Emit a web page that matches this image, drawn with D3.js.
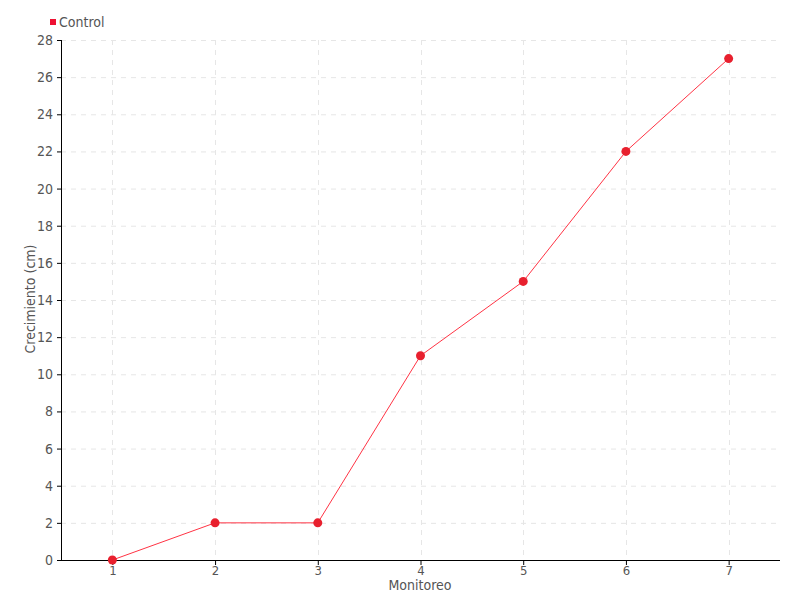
<!DOCTYPE html>
<html><head><meta charset="utf-8">
<script src="https://cdn.jsdelivr.net/npm/d3@7"></script>
<style>body{margin:0;background:#fff}svg{display:block}text{font-family:"DejaVu Sans Condensed","DejaVu Sans",sans-serif}</style>
</head><body>
<svg id="c" width="800" height="600"></svg>
<script>
const categories = [1,2,3,4,5,6,7];
const controlValues = [0,2,2,11,15,22,27];
const yTicks = [0,2,4,6,8,10,12,14,16,18,20,22,24,26,28];
const seriesName = "Control";

const FONT = '"DejaVu Sans Condensed","DejaVu Sans",sans-serif';
const svg = d3.select("#c");
const L=61,R=780,T=40,B=560;
const x = d3.scalePoint().domain(categories).range([L,R]).padding(0.5);
const y = d3.scaleLinear().domain([0,28]).range([B,T]);

// grid
const g = svg.append("g");
g.selectAll(".hg").data(yTicks.slice(1)).join("line")
 .attr("x1",L).attr("x2",R).attr("y1",d=>y(d)+0.5).attr("y2",d=>y(d)+0.5)
 .attr("stroke","#e6e6e6").attr("stroke-dasharray","5,5");
g.selectAll(".vg").data(categories).join("line")
 .attr("x1",d=>Math.round(x(d))+0.5).attr("x2",d=>Math.round(x(d))+0.5).attr("y1",T).attr("y2",B)
 .attr("stroke","#e6e6e6").attr("stroke-dasharray","5,5");

// axes
const ya = svg.append("g").attr("transform",`translate(${L},0)`)
 .call(d3.axisLeft(y).tickValues(yTicks).tickSize(4).tickPadding(4));
const xa = svg.append("g").attr("transform",`translate(0,${B})`)
 .call(d3.axisBottom(x).tickSize(5).tickPadding(1));
[ya,xa].forEach(a=>{
  a.select(".domain").attr("stroke","#000");
  a.selectAll(".tick line").attr("stroke","#000");
  a.selectAll("text").attr("fill","#555").style("font-family",FONT);
});
ya.selectAll("text").style("font-size","14px");
xa.selectAll("text").style("font-size","13px");
xa.select(".domain").attr("d",`M${L},0.5H${R}`);
ya.select(".domain").attr("d",`M0.5,${T}V${B}`);

// titles
svg.append("text").attr("x",420).attr("y",590).attr("text-anchor","middle")
 .attr("fill","#555").style("font-size","14px").text("Monitoreo");
svg.append("text").attr("transform","translate(35,299) rotate(-90)").attr("text-anchor","middle")
 .attr("fill","#555").style("font-size","14px").text("Crecimiento (cm)");

// line
const line = d3.line().x((d,i)=>x(categories[i])).y(d=>y(d));
svg.append("path").datum(controlValues).attr("d",line).attr("fill","none")
 .attr("stroke","#ff3344").attr("stroke-width",1);
svg.selectAll(".pt").data(controlValues).join("circle")
 .attr("cx",(d,i)=>x(categories[i])).attr("cy",d=>y(d)).attr("r",4.5).attr("fill","#e8202e");

// legend
svg.append("rect").attr("x",50).attr("y",19).attr("width",6).attr("height",6).attr("fill","#ee1133");
svg.append("text").attr("x",59).attr("y",27).attr("fill","#555").style("font-size","14px").text(seriesName);
</script>
</body></html>
